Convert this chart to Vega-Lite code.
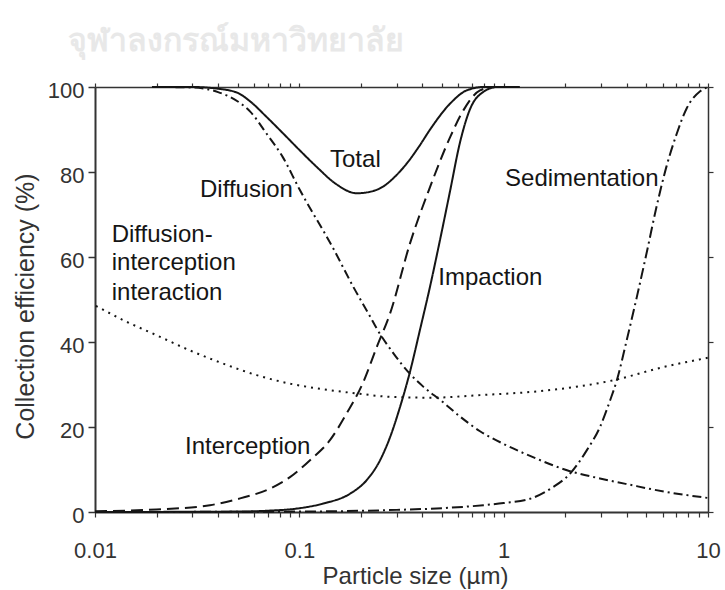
{
  "$schema": "https://vega.github.io/schema/vega-lite/v6.json",
  "autosize": {"type": "none"},
  "width": 613,
  "height": 425,
  "padding": {"left": 95, "top": 87, "right": 17, "bottom": 78},
  "background": "white",
  "title": {
    "text": "จุฬาลงกรณ์มหาวิทยาลัย",
    "font": "DejaVu Sans",
    "fontSize": 32,
    "fontWeight": "bold",
    "color": "#e8e8e8",
    "anchor": "start",
    "frame": "group",
    "dx": -27,
    "offset": -4,
    "baseline": "alphabetic"
  },
  "datasets": {
    "curves": [
      {"series": "Total", "d": 0.019, "E": 100},
      {"series": "Total", "d": 0.03, "E": 100},
      {"series": "Total", "d": 0.04, "E": 99.6},
      {"series": "Total", "d": 0.05, "E": 98.6},
      {"series": "Total", "d": 0.0575, "E": 96.6},
      {"series": "Total", "d": 0.069, "E": 93},
      {"series": "Total", "d": 0.0836, "E": 89},
      {"series": "Total", "d": 0.1, "E": 85.2},
      {"series": "Total", "d": 0.1216, "E": 81.2},
      {"series": "Total", "d": 0.15, "E": 77.3},
      {"series": "Total", "d": 0.191, "E": 75},
      {"series": "Total", "d": 0.22, "E": 75.3},
      {"series": "Total", "d": 0.2577, "E": 76.6},
      {"series": "Total", "d": 0.295, "E": 79},
      {"series": "Total", "d": 0.3355, "E": 82},
      {"series": "Total", "d": 0.3853, "E": 86},
      {"series": "Total", "d": 0.4365, "E": 90},
      {"series": "Total", "d": 0.547, "E": 96.1},
      {"series": "Total", "d": 0.659, "E": 99.2},
      {"series": "Total", "d": 0.8, "E": 100},
      {"series": "Total", "d": 1.1, "E": 100},

      {"series": "Diffusion", "d": 0.02, "E": 100},
      {"series": "Diffusion", "d": 0.03, "E": 99.9},
      {"series": "Diffusion", "d": 0.04, "E": 98.8},
      {"series": "Diffusion", "d": 0.05, "E": 96.6},
      {"series": "Diffusion", "d": 0.0575, "E": 94.2},
      {"series": "Diffusion", "d": 0.0692, "E": 89},
      {"series": "Diffusion", "d": 0.083, "E": 83.5},
      {"series": "Diffusion", "d": 0.1, "E": 76},
      {"series": "Diffusion", "d": 0.1466, "E": 62},
      {"series": "Diffusion", "d": 0.1836, "E": 53},
      {"series": "Diffusion", "d": 0.222, "E": 46},
      {"series": "Diffusion", "d": 0.239, "E": 43.2},
      {"series": "Diffusion", "d": 0.287, "E": 37.5},
      {"series": "Diffusion", "d": 0.348, "E": 32.5},
      {"series": "Diffusion", "d": 0.404, "E": 29.5},
      {"series": "Diffusion", "d": 0.5, "E": 26},
      {"series": "Diffusion", "d": 0.61, "E": 22.5},
      {"series": "Diffusion", "d": 0.766, "E": 19},
      {"series": "Diffusion", "d": 1.0, "E": 16},
      {"series": "Diffusion", "d": 1.346, "E": 13.2},
      {"series": "Diffusion", "d": 2.11, "E": 9.6},
      {"series": "Diffusion", "d": 2.96, "E": 7.9},
      {"series": "Diffusion", "d": 4.16, "E": 6.4},
      {"series": "Diffusion", "d": 6.1, "E": 4.8},
      {"series": "Diffusion", "d": 10, "E": 3.3},

      {"series": "Interception", "d": 0.01, "E": 0.2},
      {"series": "Interception", "d": 0.02, "E": 0.6},
      {"series": "Interception", "d": 0.0365, "E": 1.6},
      {"series": "Interception", "d": 0.0513, "E": 3.2},
      {"series": "Interception", "d": 0.0719, "E": 5.5},
      {"series": "Interception", "d": 0.09, "E": 8.2},
      {"series": "Interception", "d": 0.1128, "E": 12.2},
      {"series": "Interception", "d": 0.1412, "E": 16.9},
      {"series": "Interception", "d": 0.1705, "E": 23.2},
      {"series": "Interception", "d": 0.2057, "E": 30.6},
      {"series": "Interception", "d": 0.2392, "E": 38.8},
      {"series": "Interception", "d": 0.278, "E": 46.7},
      {"series": "Interception", "d": 0.348, "E": 63.2},
      {"series": "Interception", "d": 0.4365, "E": 76.5},
      {"series": "Interception", "d": 0.547, "E": 88.2},
      {"series": "Interception", "d": 0.635, "E": 94.5},
      {"series": "Interception", "d": 0.766, "E": 99.2},
      {"series": "Interception", "d": 0.9, "E": 100},
      {"series": "Interception", "d": 1.1, "E": 100},

      {"series": "Impaction", "d": 0.01, "E": 0},
      {"series": "Impaction", "d": 0.05, "E": 0.1},
      {"series": "Impaction", "d": 0.07, "E": 0.3},
      {"series": "Impaction", "d": 0.097, "E": 0.8},
      {"series": "Impaction", "d": 0.131, "E": 2},
      {"series": "Impaction", "d": 0.177, "E": 4.3},
      {"series": "Impaction", "d": 0.2137, "E": 7.5},
      {"series": "Impaction", "d": 0.2485, "E": 12.2},
      {"series": "Impaction", "d": 0.278, "E": 17.6},
      {"series": "Impaction", "d": 0.311, "E": 24.7},
      {"series": "Impaction", "d": 0.348, "E": 33},
      {"series": "Impaction", "d": 0.39, "E": 43},
      {"series": "Impaction", "d": 0.436, "E": 53},
      {"series": "Impaction", "d": 0.488, "E": 64},
      {"series": "Impaction", "d": 0.5465, "E": 75.5},
      {"series": "Impaction", "d": 0.6116, "E": 87},
      {"series": "Impaction", "d": 0.6846, "E": 94.8},
      {"series": "Impaction", "d": 0.7926, "E": 98.8},
      {"series": "Impaction", "d": 0.9284, "E": 100},
      {"series": "Impaction", "d": 1.2, "E": 100},

      {"series": "Sedimentation", "d": 0.01, "E": 0},
      {"series": "Sedimentation", "d": 0.1, "E": 0.1},
      {"series": "Sedimentation", "d": 0.3, "E": 0.5},
      {"series": "Sedimentation", "d": 0.5, "E": 0.9},
      {"series": "Sedimentation", "d": 0.796, "E": 1.6},
      {"series": "Sedimentation", "d": 1.0, "E": 2.1},
      {"series": "Sedimentation", "d": 1.346, "E": 3.1},
      {"series": "Sedimentation", "d": 1.75, "E": 5.9},
      {"series": "Sedimentation", "d": 2.11, "E": 9},
      {"series": "Sedimentation", "d": 2.55, "E": 14.5},
      {"series": "Sedimentation", "d": 2.96, "E": 20},
      {"series": "Sedimentation", "d": 3.32, "E": 26.3},
      {"series": "Sedimentation", "d": 3.58, "E": 31},
      {"series": "Sedimentation", "d": 4.005, "E": 40.5},
      {"series": "Sedimentation", "d": 4.48, "E": 50.5},
      {"series": "Sedimentation", "d": 5.01, "E": 61},
      {"series": "Sedimentation", "d": 5.61, "E": 72},
      {"series": "Sedimentation", "d": 6.28, "E": 81.5},
      {"series": "Sedimentation", "d": 7.03, "E": 89},
      {"series": "Sedimentation", "d": 7.87, "E": 95},
      {"series": "Sedimentation", "d": 9.15, "E": 99},
      {"series": "Sedimentation", "d": 10, "E": 100},

      {"series": "Interaction", "d": 0.0101, "E": 48.5},
      {"series": "Interaction", "d": 0.0138, "E": 45.1},
      {"series": "Interaction", "d": 0.02, "E": 41.6},
      {"series": "Interaction", "d": 0.0292, "E": 38},
      {"series": "Interaction", "d": 0.0425, "E": 34.9},
      {"series": "Interaction", "d": 0.0618, "E": 32.2},
      {"series": "Interaction", "d": 0.09, "E": 30.2},
      {"series": "Interaction", "d": 0.126, "E": 29},
      {"series": "Interaction", "d": 0.191, "E": 27.9},
      {"series": "Interaction", "d": 0.278, "E": 27.1},
      {"series": "Interaction", "d": 0.4365, "E": 26.9},
      {"series": "Interaction", "d": 0.766, "E": 27.5},
      {"series": "Interaction", "d": 1.626, "E": 28.6},
      {"series": "Interaction", "d": 3.44, "E": 31},
      {"series": "Interaction", "d": 6.05, "E": 34.1},
      {"series": "Interaction", "d": 10, "E": 36.3}
    ],
    "labels": [
      {"text": "Total", "d": 0.1413, "E": 81.1},
      {"text": "Diffusion", "d": 0.03266, "E": 74.1},
      {"text": "Diffusion-", "d": 0.01207, "E": 63.5},
      {"text": "interception", "d": 0.01207, "E": 56.9},
      {"text": "interaction", "d": 0.01207, "E": 49.8},
      {"text": "Impaction", "d": 0.479, "E": 53.3},
      {"text": "Sedimentation", "d": 1.016, "E": 76.8},
      {"text": "Interception", "d": 0.02757, "E": 13.6}
    ]
  },
  "layer": [
    {
      "data": {"name": "curves"},
      "mark": {"type": "line", "interpolate": "monotone", "color": "#151515", "strokeWidth": 2},
      "encoding": {
        "x": {
          "field": "d",
          "type": "quantitative",
          "scale": {"type": "log", "domain": [0.01, 10], "nice": false},
          "axis": {
            "orient": "bottom",
            "values": [0.01, 0.02, 0.03, 0.04, 0.05, 0.06, 0.07, 0.08, 0.09, 0.1, 0.2, 0.3, 0.4, 0.5, 0.6, 0.7, 0.8, 0.9, 1, 2, 3, 4, 5, 6, 7, 8, 9, 10],
            "format": "~g",
            "labelExpr": "abs(log(datum.value) / LN10 - round(log(datum.value) / LN10)) < 1e-6 ? datum.label : ''",
            "labelOverlap": false,
            "labelFlush": false,
            "labelBaseline": "alphabetic",
            "labelPadding": 40,
            "labelFont": "Liberation Sans",
            "labelFontSize": 22,
            "labelColor": "#333333",
            "tickSize": 5,
            "tickWidth": 1.2,
            "tickColor": "#333333",
            "domainColor": "#333333",
            "domainWidth": 2,
            "grid": false,
            "title": "Particle size (µm)",
            "titleFont": "Liberation Sans",
            "titleFontSize": 24,
            "titleFontWeight": "normal",
            "titleColor": "#333333",
            "titleX": 320,
            "titleY": 71,
            "titleBaseline": "alphabetic"
          }
        },
        "y": {
          "field": "E",
          "type": "quantitative",
          "scale": {"domain": [0, 100], "nice": false},
          "axis": {
            "orient": "left",
            "values": [0, 20, 40, 60, 80, 100],
            "labelFont": "Liberation Sans",
            "labelFontSize": 22,
            "labelColor": "#333333",
            "labelPadding": 4,
            "labelOffset": 3,
            "tickSize": 7,
            "tickWidth": 1.5,
            "tickColor": "#333333",
            "domainColor": "#333333",
            "domainWidth": 2,
            "grid": false,
            "title": "Collection efficiency (%)",
            "titleFont": "Liberation Sans",
            "titleFontSize": 25,
            "titleFontWeight": "normal",
            "titleColor": "#333333",
            "titleX": -62,
            "titleY": 219,
            "titleBaseline": "alphabetic"
          }
        },
        "detail": {"field": "series"},
        "strokeDash": {
          "field": "series",
          "type": "nominal",
          "scale": {
            "domain": ["Total", "Impaction", "Diffusion", "Sedimentation", "Interception", "Interaction"],
            "range": [[1, 0], [1, 0], [9, 4, 2, 4], [11, 4, 2, 4], [12, 6], [2, 5]]
          },
          "legend": null
        }
      }
    },
    {
      "data": {"name": "labels"},
      "mark": {"type": "text", "align": "left", "baseline": "alphabetic", "font": "Liberation Sans", "fontSize": 24, "color": "#151515"},
      "encoding": {
        "x": {
          "field": "d",
          "type": "quantitative",
          "axis": {
            "orient": "top",
            "values": [0.01, 0.02, 0.03, 0.04, 0.05, 0.06, 0.07, 0.08, 0.09, 0.1, 0.2, 0.3, 0.4, 0.5, 0.6, 0.7, 0.8, 0.9, 1, 2, 3, 4, 5, 6, 7, 8, 9, 10],
            "labels": false,
            "title": null,
            "tickSize": 4,
            "tickWidth": 1.2,
            "tickColor": "#333333",
            "domainColor": "#333333",
            "domainWidth": 1.5,
            "grid": false
          }
        },
        "y": {
          "field": "E",
          "type": "quantitative",
          "axis": {
            "orient": "right",
            "values": [0, 20, 40, 60, 80, 100],
            "labels": false,
            "title": null,
            "tickSize": 5,
            "tickWidth": 1.2,
            "tickColor": "#333333",
            "domainColor": "#333333",
            "domainWidth": 1.5,
            "grid": false
          }
        },
        "text": {"field": "text", "type": "nominal"}
      }
    }
  ],
  "resolve": {"axis": {"x": "independent", "y": "independent"}},
  "config": {"view": {"stroke": null}}
}
